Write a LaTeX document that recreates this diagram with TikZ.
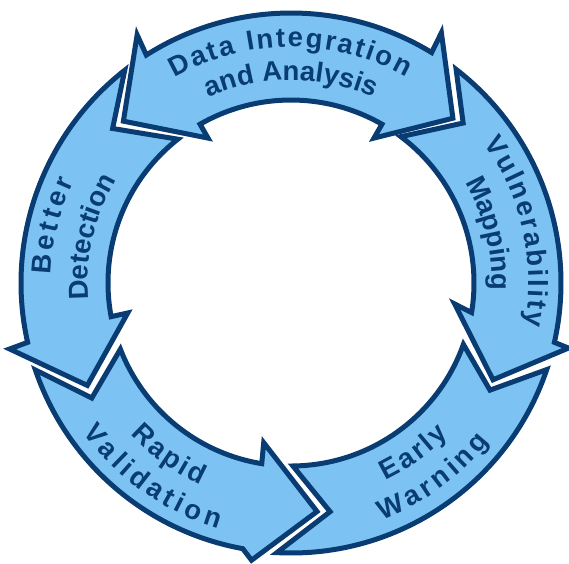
\documentclass[tikz,border=0pt]{standalone}
\usepackage{fontspec}
\setmainfont{Liberation Sans}
\usetikzlibrary{decorations.text}
\definecolor{navy}{RGB}{8,60,114}
\definecolor{lb}{RGB}{124,195,244}
\newcommand{\arcfont}{\fontsize{27.5}{30}\selectfont\bfseries\color{navy}}
\begin{document}
\begin{tikzpicture}[x=1pt,y=1pt,
  shp/.style={fill=lb, draw=navy, line width=5pt, line join=miter, miter limit=10},
  lbl/.style={decorate, decoration={text along path}}]
\useasboundingbox (-291,-280) rectangle (278,283);

% Data Integration and Analysis (double headed)
\draw[shp] (122.4:270) arc[start angle=122.4, end angle=58.6, radius=270]
  -- (59:292) -- (45.5:231) -- (60.2:167) -- (60.2:183)
  arc[start angle=60.2, end angle=119.8, radius=183]
  -- (119.8:167) -- (136:233) -- (121.8:292) -- cycle;

% Better Detection
\draw[shp] (128:270) arc[start angle=128, end angle=192.7, radius=270]
  -- (193.2:289) -- (206.7:228) -- (190.4:166) -- (190.6:183)
  arc[start angle=190.6, end angle=128.2, radius=183]
  -- (139.1:236) -- cycle;

% Vulnerability Mapping
\draw[shp] (52.3:270) arc[start angle=52.3, end angle=-12.7, radius=270]
  -- (-13.2:285) -- (-25.6:224) -- (-7.3:165) -- (-9.3:183)
  arc[start angle=-9.3, end angle=53.1, radius=183]
  -- (42.9:235) -- cycle;

% Early Warning
\draw[shp] (-18.7:270) -- (-28.3:226) -- (-19.6:183)
  arc[start angle=-19.6, end angle=-89.4, radius=183]
  -- (-80.3:232) -- (-93:270)
  arc[start angle=-93, end angle=-18.7, radius=270] -- cycle;

% Rapid Validation
\draw[shp] (198.8:270) arc[start angle=198.8, end angle=259.7, radius=270]
  -- (261.9:280) -- (276.5:230) -- (260.3:162) -- (260.8:183)
  arc[start angle=260.8, end angle=201.2, radius=183]
  -- (210:230) -- cycle;

% Labels
\path[lbl, decoration={text={|\arcfont|Data Integration}, text align={fit to path}}]
  (119.5:236) arc[start angle=119.5, end angle=60.8, radius=236];
\path[lbl, decoration={text={|\arcfont|and Analysis}, text align=center}]
  (135:203) arc[start angle=135, end angle=45, radius=203];

\path[lbl, decoration={text={|\arcfont|Vulnerability}, text align={fit to path}}]
  (36:238) arc[start angle=36, end angle=-10.3, radius=238];
\path[lbl, decoration={text={|\arcfont|Mapping}, text align=center}]
  (40:201) arc[start angle=40, end angle=-12, radius=201];

\path[lbl, decoration={text={|\arcfont|Better}, text align={fit to path}}]
  (178:240) arc[start angle=178, end angle=155, radius=240];
\path[lbl, decoration={text={|\arcfont|Detection}, text align=center}]
  (190:203) arc[start angle=190, end angle=144.2, radius=203];

\path[lbl, decoration={text={|\arcfont|Rapid}, text align={fit to path}}]
  (223.3:221) arc[start angle=223.3, end angle=245.9, radius=221];
\path[lbl, decoration={text={|\arcfont|Validation}, text align={fit to path}}]
  (215.6:256) arc[start angle=215.6, end angle=253.5, radius=256];

\path[lbl, decoration={text={|\arcfont|Early}, text align={fit to path}}]
  (-64.4:219) arc[start angle=-64.4, end angle=-44, radius=219];
\path[lbl, decoration={text={|\arcfont|Warning}, text align={fit to path}}]
  (-69:254) arc[start angle=-69, end angle=-38.6, radius=254];
\end{tikzpicture}
\end{document}
